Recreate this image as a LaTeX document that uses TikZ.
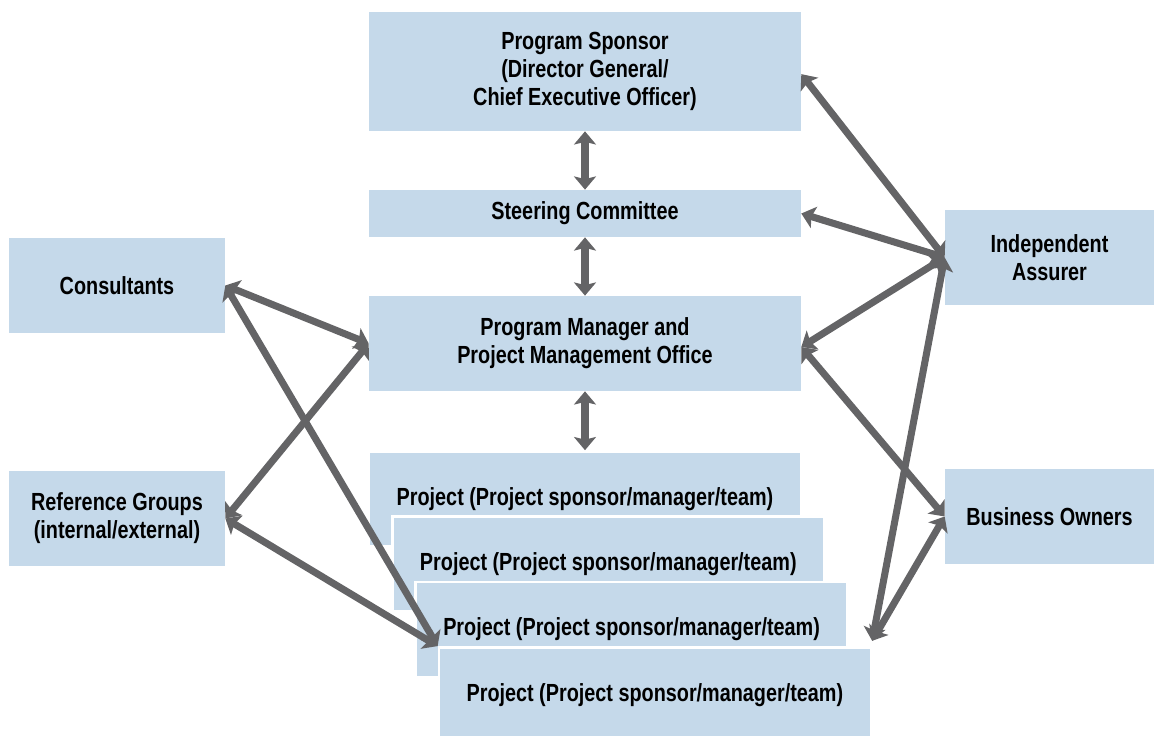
\documentclass[tikz,border=0pt]{standalone}
\usepackage{fontspec}
\setmainfont{Liberation Sans}[FakeStretch=0.8]
\usetikzlibrary{arrows.meta}
\definecolor{boxblue}{RGB}{197,217,234}
\definecolor{linkgray}{RGB}{100,100,102}
\tikzset{box/.style={fill=boxblue,minimum width=8.64cm,minimum
height=1.9cm,inner sep=0pt,align=center,text=black,font=\bfseries\fontsize{14.1}{16}\selectfont},
sidebox/.style={box,minimum width=4.32cm},
link/.style={draw=linkgray,line width=4pt,>={Stealth[length=7.5pt,width=12.5pt,inset=1.5pt]},<->}}

\begin{document}
\begin{tikzpicture}[x=0.02cm,y=-0.02cm]
		\useasboundingbox (0,0) rectangle (1154,736);
		% middle column
		\node[box,minimum height=2.38cm] (sponsor) at (585,71.5)
		{Program Sponsor\\(Director General/\\Chief Executive Officer)};
		\node[box,minimum height=0.94cm] (steering) at (585,213.5) {Steering Committee};
		\node[box] (pmo) at (585,343.5) {Program Manager and\\Project Management Office};
		% stacked projects
		\foreach \i[evaluate=\i as\dx using (\i-1)*23.3,evaluate=\i as\dy using (\i-1)*65.3] in {1,...,4}
		\node[box,draw=white,line width=1.5pt](p\i) at (585+\dx,499+\dy){Project (Project sponsor/manager/team)};
		% side boxes
		\node[sidebox] (consult) at (117,285.5) {Consultants};
		\node[sidebox] (refgrp) at (117,518.5) {Reference Groups\\(internal/external)};
		\node[sidebox,minimum width=4.18cm] (assurer) at (1049.5,257.5) {Independent\\Assurer};
		\node[sidebox,minimum width=4.18cm] (owners) at (1049.5,516.5) {Business Owners};
		% links
		\draw[link] (sponsor.south) -- (steering.north);
		\draw[link] (steering.south) -- (pmo.north);
		\draw[link] (pmo.south) -- (p1.north);
		\draw[link] (consult.east) -- (pmo.west);
		\draw[link] (consult.east) -- (p4.north west);
		\draw[link] (refgrp.east) -- (pmo.west);
		\draw[link] (refgrp.east) -- (p4.north west);
		\draw[link] (assurer.west) -- ([yshift=-1.5pt]sponsor.east);
		\draw[link] (assurer.west) -- (steering.east);
		\draw[link] (assurer.west) -- ([yshift=-2pt]pmo.east);
		\draw[link] (assurer.west) -- ([yshift=3pt]p4.north east);
		\draw[link] ([yshift=-2pt]pmo.east) -- (owners.west);
		\draw[link] (owners.west) -- ([yshift=3pt]p4.north east);
	\end{tikzpicture}
\end{document}
